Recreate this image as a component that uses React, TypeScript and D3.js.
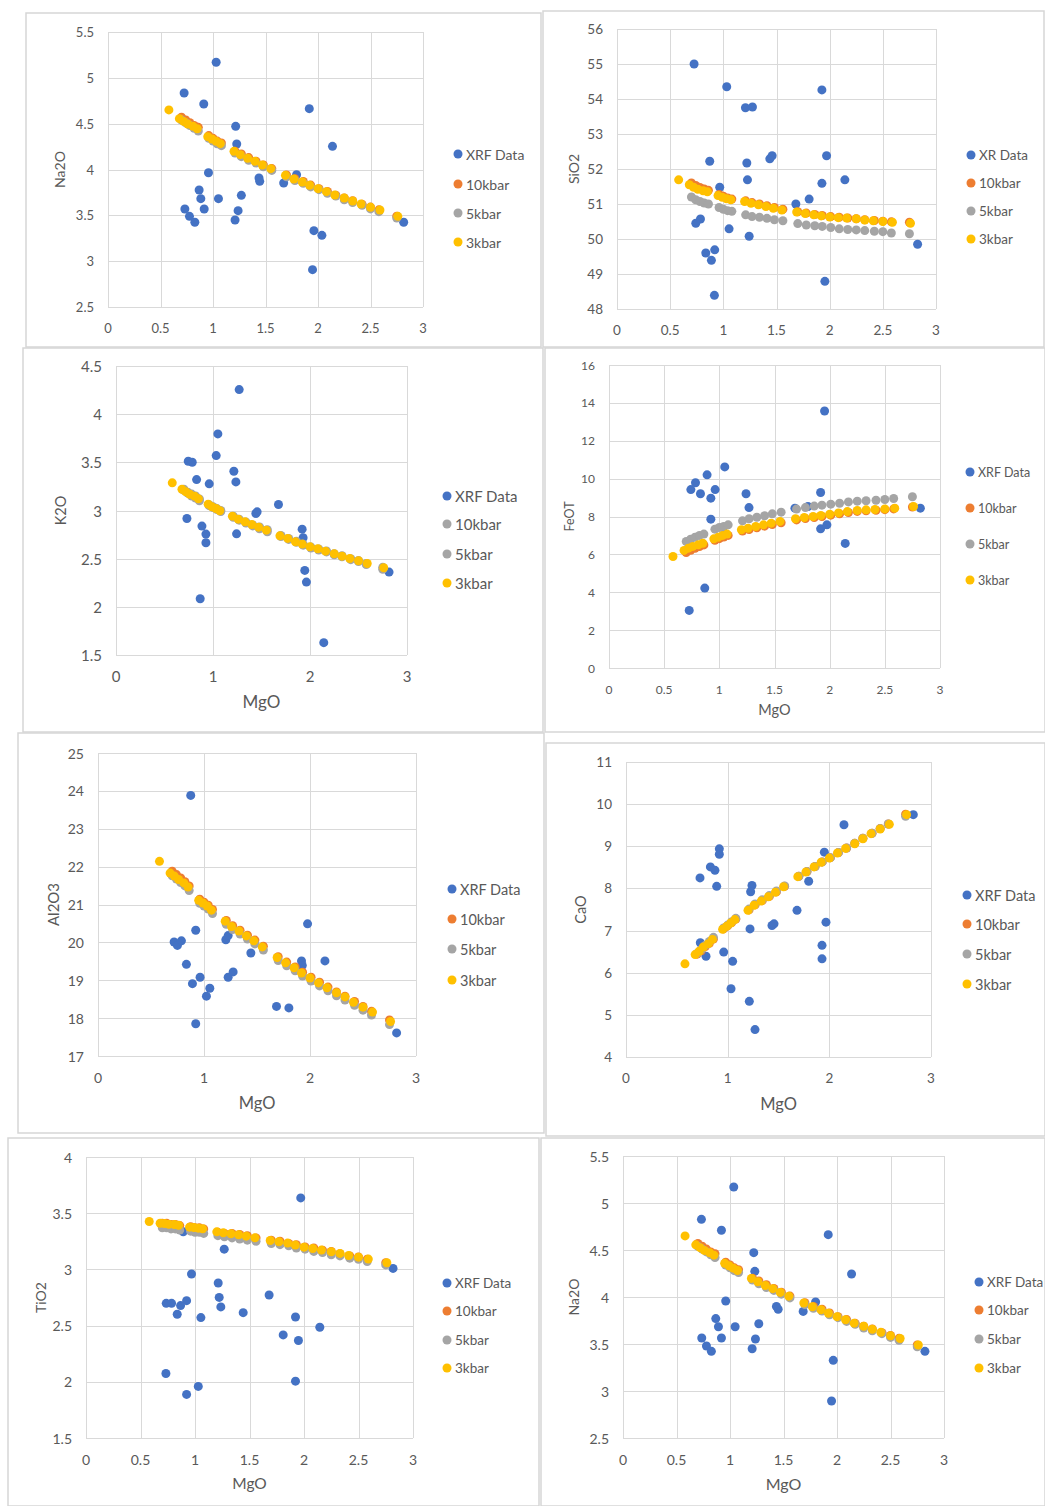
import React, { useEffect, useRef } from "react";
import * as d3 from "d3";

// MgO of the modelled liquids (3kbar has one extra point at the start)
const mgo3kbar = [0.58, 0.68, 0.72, 0.76, 0.81, 0.85, 0.95, 0.99, 1.03, 1.07, 1.2, 1.26, 1.33, 1.4, 1.47, 1.55, 1.69, 1.77, 1.85, 1.92, 2.0, 2.08, 2.16, 2.25, 2.33, 2.41, 2.5, 2.59, 2.76];
const mgoModel = [0.7, 0.74, 0.78, 0.82, 0.86, 0.96, 1.0, 1.04, 1.08, 1.21, 1.27, 1.34, 1.41, 1.48, 1.56, 1.7, 1.78, 1.86, 1.93, 2.01, 2.09, 2.17, 2.25, 2.33, 2.42, 2.5, 2.58, 2.75];

const na2o3kbar = [4.65, 4.555, 4.525, 4.496, 4.471, 4.445, 4.358, 4.333, 4.307, 4.282, 4.198, 4.162, 4.122, 4.089, 4.049, 4.009, 3.936, 3.896, 3.864, 3.827, 3.791, 3.758, 3.722, 3.689, 3.656, 3.624, 3.587, 3.558, 3.489];
const na2o5kbar = [4.54, 4.51, 4.48, 4.45, 4.42, 4.34, 4.31, 4.28, 4.26, 4.18, 4.14, 4.1, 4.07, 4.03, 3.99, 3.92, 3.88, 3.85, 3.81, 3.78, 3.74, 3.71, 3.67, 3.64, 3.61, 3.57, 3.54, 3.47];
const na2o10kbar = [4.57, 4.54, 4.51, 4.48, 4.46, 4.37, 4.34, 4.31, 4.29, 4.2, 4.17, 4.13, 4.09, 4.05, 4.01, 3.94, 3.9, 3.87, 3.83, 3.79, 3.76, 3.72, 3.69, 3.66, 3.62, 3.59, 3.56, 3.49];

const sio23kbar = [51.69, 51.55, 51.48, 51.42, 51.38, 51.35, 51.24, 51.19, 51.15, 51.12, 51.07, 51.02, 50.98, 50.93, 50.88, 50.83, 50.77, 50.73, 50.69, 50.66, 50.63, 50.61, 50.6, 50.58, 50.54, 50.52, 50.5, 50.48, 50.45];
const sio25kbar = [51.2, 51.12, 51.07, 51.03, 51.0, 50.9, 50.85, 50.81, 50.79, 50.69, 50.64, 50.62, 50.59, 50.55, 50.52, 50.44, 50.4, 50.38, 50.36, 50.33, 50.29, 50.27, 50.26, 50.24, 50.22, 50.21, 50.17, 50.15];
const sio210kbar = [51.6, 51.53, 51.47, 51.43, 51.39, 51.27, 51.22, 51.17, 51.14, 51.09, 51.04, 51.0, 50.95, 50.9, 50.85, 50.78, 50.74, 50.7, 50.67, 50.64, 50.62, 50.6, 50.58, 50.55, 50.53, 50.51, 50.49, 50.48];

const k2o3kbar = [3.287, 3.221, 3.194, 3.169, 3.149, 3.121, 3.066, 3.038, 3.021, 2.997, 2.941, 2.91, 2.882, 2.855, 2.827, 2.796, 2.737, 2.71, 2.675, 2.651, 2.623, 2.603, 2.578, 2.551, 2.526, 2.502, 2.478, 2.45, 2.406];
const k2o5kbar = [3.21, 3.18, 3.15, 3.13, 3.1, 3.05, 3.03, 3.01, 2.99, 2.93, 2.9, 2.87, 2.84, 2.81, 2.78, 2.73, 2.7, 2.67, 2.64, 2.61, 2.59, 2.57, 2.54, 2.52, 2.49, 2.47, 2.44, 2.39];
const k2o10kbar = [3.22, 3.19, 3.17, 3.15, 3.12, 3.06, 3.04, 3.02, 3.0, 2.94, 2.91, 2.88, 2.85, 2.83, 2.8, 2.74, 2.71, 2.68, 2.65, 2.62, 2.6, 2.58, 2.55, 2.53, 2.5, 2.48, 2.45, 2.41];

const feot3kbar = [5.89, 6.21, 6.33, 6.42, 6.51, 6.59, 6.82, 6.91, 7.0, 7.07, 7.3, 7.38, 7.47, 7.56, 7.65, 7.74, 7.88, 7.95, 8.0, 8.05, 8.12, 8.19, 8.26, 8.32, 8.35, 8.37, 8.4, 8.44, 8.53];
const feot5kbar = [6.68, 6.8, 6.91, 7.0, 7.07, 7.33, 7.42, 7.47, 7.56, 7.77, 7.88, 7.96, 8.04, 8.14, 8.23, 8.39, 8.47, 8.55, 8.6, 8.65, 8.7, 8.77, 8.81, 8.83, 8.86, 8.9, 8.95, 9.04];
const feot10kbar = [6.1, 6.22, 6.32, 6.41, 6.5, 6.74, 6.83, 6.92, 7.0, 7.23, 7.31, 7.4, 7.49, 7.58, 7.67, 7.82, 7.89, 7.95, 8.0, 8.07, 8.14, 8.21, 8.27, 8.3, 8.33, 8.36, 8.4, 8.5];

const al2o33kbar = [22.14, 21.83, 21.75, 21.66, 21.57, 21.46, 21.11, 21.04, 20.96, 20.85, 20.56, 20.42, 20.3, 20.17, 20.04, 19.88, 19.6, 19.46, 19.33, 19.19, 19.06, 18.93, 18.8, 18.67, 18.56, 18.42, 18.29, 18.16, 17.91];
const al2o35kbar = [21.76, 21.67, 21.58, 21.49, 21.37, 21.03, 20.96, 20.88, 20.76, 20.48, 20.34, 20.22, 20.09, 19.96, 19.8, 19.52, 19.38, 19.25, 19.11, 18.98, 18.85, 18.72, 18.59, 18.48, 18.34, 18.21, 18.08, 17.83];
const al2o310kbar = [21.88, 21.79, 21.7, 21.6, 21.49, 21.14, 21.06, 20.98, 20.87, 20.58, 20.44, 20.32, 20.19, 20.06, 19.9, 19.62, 19.48, 19.35, 19.21, 19.08, 18.95, 18.82, 18.69, 18.58, 18.44, 18.31, 18.18, 17.95];

const cao3kbar = [6.21, 6.43, 6.51, 6.61, 6.69, 6.79, 7.03, 7.1, 7.18, 7.26, 7.48, 7.6, 7.7, 7.8, 7.91, 8.04, 8.28, 8.39, 8.51, 8.62, 8.72, 8.84, 8.95, 9.06, 9.18, 9.3, 9.41, 9.52, 9.75];
const cao5kbar = [6.46, 6.55, 6.65, 6.74, 6.84, 7.06, 7.13, 7.21, 7.29, 7.51, 7.63, 7.73, 7.83, 7.94, 8.06, 8.29, 8.4, 8.52, 8.63, 8.73, 8.85, 8.96, 9.07, 9.19, 9.31, 9.42, 9.53, 9.71];
const cao10kbar = [6.44, 6.52, 6.62, 6.7, 6.8, 7.04, 7.11, 7.19, 7.27, 7.49, 7.61, 7.71, 7.81, 7.92, 8.05, 8.29, 8.4, 8.52, 8.63, 8.73, 8.85, 8.96, 9.07, 9.19, 9.31, 9.42, 9.53, 9.76];

const tio23kbar = [3.426, 3.411, 3.408, 3.402, 3.399, 3.393, 3.376, 3.373, 3.367, 3.361, 3.334, 3.325, 3.317, 3.308, 3.296, 3.281, 3.257, 3.246, 3.234, 3.216, 3.198, 3.186, 3.172, 3.157, 3.142, 3.124, 3.109, 3.092, 3.059];
const tio25kbar = [3.37, 3.37, 3.36, 3.36, 3.35, 3.34, 3.33, 3.33, 3.32, 3.3, 3.29, 3.28, 3.27, 3.26, 3.25, 3.23, 3.22, 3.21, 3.19, 3.18, 3.16, 3.15, 3.13, 3.12, 3.1, 3.09, 3.07, 3.04];
const tio210kbar = [3.41, 3.41, 3.4, 3.4, 3.39, 3.38, 3.37, 3.37, 3.36, 3.33, 3.32, 3.32, 3.31, 3.3, 3.28, 3.26, 3.25, 3.23, 3.22, 3.2, 3.19, 3.17, 3.16, 3.14, 3.12, 3.11, 3.09, 3.06];

// XRF samples, [MgO, oxide]
const na2oXrfTop = [[1.03, 5.17], [0.725, 4.835], [0.912, 4.715], [1.917, 4.664], [1.216, 4.471], [1.226, 4.278], [2.138, 4.253], [0.957, 3.965], [1.438, 3.907], [1.445, 3.871], [1.796, 3.944], [1.673, 3.853], [0.868, 3.776], [0.884, 3.682], [1.052, 3.682], [1.27, 3.718], [0.732, 3.569], [0.916, 3.569], [1.239, 3.551], [0.776, 3.489], [0.827, 3.424], [1.21, 3.449], [2.816, 3.424], [1.961, 3.333], [2.037, 3.282], [1.948, 2.907]];
const na2oXrfBottom = [[1.035, 5.17], [0.733, 4.826], [0.92, 4.71], [1.918, 4.663], [1.222, 4.472], [1.232, 4.273], [2.136, 4.245], [0.96, 3.957], [1.434, 3.9], [1.45, 3.87], [1.8, 3.947], [1.684, 3.847], [0.867, 3.77], [0.892, 3.684], [1.048, 3.684], [1.269, 3.716], [0.736, 3.564], [0.92, 3.564], [1.238, 3.553], [0.78, 3.479], [0.826, 3.422], [1.207, 3.45], [2.822, 3.422], [1.965, 3.326], [1.949, 2.894]];
const sio2Xrf = [[0.725, 55.0], [1.032, 54.35], [1.208, 53.75], [1.274, 53.77], [1.927, 54.26], [0.872, 52.22], [1.221, 52.17], [1.437, 52.29], [1.459, 52.38], [1.971, 52.38], [1.227, 51.69], [0.966, 51.48], [1.927, 51.59], [2.143, 51.69], [1.682, 51.0], [1.807, 51.14], [0.741, 50.45], [0.785, 50.57], [1.054, 50.29], [1.243, 50.08], [2.827, 49.85], [0.835, 49.6], [0.919, 49.69], [0.888, 49.39], [1.955, 48.79], [0.916, 48.39]];
const k2oXrf = [[1.27, 4.255], [1.05, 3.795], [1.033, 3.57], [0.745, 3.511], [0.786, 3.501], [1.215, 3.408], [1.236, 3.297], [0.831, 3.321], [0.961, 3.277], [1.675, 3.062], [1.442, 2.969], [1.455, 2.986], [0.731, 2.917], [0.886, 2.838], [0.927, 2.755], [0.927, 2.665], [1.243, 2.758], [1.919, 2.806], [1.929, 2.717], [1.946, 2.378], [1.963, 2.257], [0.868, 2.084], [2.142, 1.628], [2.815, 2.361]];
const feotXrf = [[1.954, 13.57], [1.049, 10.62], [0.889, 10.2], [0.784, 9.78], [0.742, 9.42], [0.829, 9.2], [0.962, 9.42], [0.923, 8.97], [1.242, 9.2], [1.918, 9.27], [1.269, 8.47], [0.923, 7.86], [1.685, 8.44], [1.803, 8.53], [1.918, 7.35], [1.975, 7.56], [2.141, 6.58], [2.822, 8.44], [0.868, 4.22], [0.727, 3.04], [1.034, 7.42]];
const al2o3Xrf = [[0.875, 23.88], [1.977, 20.49], [0.922, 20.32], [0.718, 20.01], [0.749, 19.92], [0.787, 20.04], [1.206, 20.07], [1.228, 20.18], [1.442, 19.72], [1.92, 19.51], [2.141, 19.51], [0.834, 19.42], [0.963, 19.08], [0.891, 18.91], [1.228, 19.08], [1.275, 19.22], [1.055, 18.79], [1.023, 18.58], [1.684, 18.31], [1.801, 18.27], [0.922, 17.85], [2.817, 17.61], [1.927, 19.39]];
const caoXrf = [[0.918, 8.94], [0.918, 8.81], [0.83, 8.51], [0.875, 8.43], [0.728, 8.25], [0.892, 8.05], [1.239, 8.07], [1.226, 7.92], [2.144, 9.51], [1.951, 8.86], [1.797, 8.17], [1.682, 7.48], [1.967, 7.2], [1.22, 7.04], [1.436, 7.12], [1.456, 7.16], [0.731, 6.71], [0.787, 6.39], [0.961, 6.49], [1.049, 6.27], [1.928, 6.65], [1.928, 6.33], [1.033, 5.62], [1.213, 5.32], [1.269, 4.65], [2.826, 9.75]];
const tio2Xrf = [[1.97, 3.636], [0.892, 3.334], [1.268, 3.18], [0.968, 2.959], [1.213, 2.879], [1.68, 2.772], [1.222, 2.751], [1.237, 2.666], [0.736, 2.698], [0.785, 2.698], [0.923, 2.722], [0.868, 2.678], [0.837, 2.601], [1.054, 2.571], [1.442, 2.615], [1.922, 2.577], [2.145, 2.485], [1.809, 2.417], [1.949, 2.367], [0.733, 2.074], [1.922, 2.006], [1.03, 1.959], [0.923, 1.888], [2.817, 3.009]];

const seriesNames = ["10kbar", "5kbar", "3kbar"];
const BLUE = "#4472C4";
const ORANGE = "#ED7D31";
const GRAY = "#A5A5A5";
const GOLD = "#FFC000";
const TEXT = "#595959";
const GRID = "#d9d9d9";

// layout of the eight charts on the page
const panels = [
  { box: [26, 13, 515, 334], plot: [108, 32, 423, 307], y: [2.5, 5.5, 0.5], xStep: 0.5, title: "Na2O", titleX: 59, xTitleY: 354, legX: 458, legY: [154, 184, 213, 242], xrfName: "XRF Data", xrf: na2oXrfTop, k10: na2o10kbar, k5: na2o5kbar, k3: na2o3kbar, c10: ORANGE, fs: [13, 14, 16, 14] },
  { box: [543, 11, 501, 336], plot: [617, 29, 936, 309], y: [48, 56, 1], xStep: 0.5, title: "SiO2", titleX: 573, xTitleY: 356, legX: 971, legY: [155, 183, 211, 239], xrfName: "XR Data", xrf: sio2Xrf, k10: sio210kbar, k5: sio25kbar, k3: sio23kbar, c10: ORANGE, fs: [13.5, 14, 16, 13.5] },
  { box: [23, 348, 520, 384], plot: [116, 366, 407, 655], y: [1.5, 4.5, 0.5], xStep: 1, title: "K2O", titleX: 60, xTitleY: 701, legX: 447, legY: [496, 524, 554, 583], xrfName: "XRF Data", xrf: k2oXrf, k10: k2o10kbar, k5: k2o5kbar, k3: k2o3kbar, c10: GRAY, fs: [15, 14.5, 17, 15] },
  { box: [545, 348, 500, 384], plot: [609, 365, 940, 668], y: [0, 16, 2], xStep: 0.5, title: "FeOT", titleX: 569, xTitleY: 709, legX: 970, legY: [472, 508, 544, 580], xrfName: "XRF Data", xrf: feotXrf, k10: feot10kbar, k5: feot5kbar, k3: feot3kbar, c10: ORANGE, fs: [12, 12.5, 14.5, 12.5] },
  { box: [18, 733, 526, 400], plot: [98, 753, 416, 1056], y: [17, 25, 1], xStep: 1, title: "Al2O3", titleX: 53, xTitleY: 1103, legX: 452, legY: [889, 919, 949, 980], xrfName: "XRF Data", xrf: al2o3Xrf, k10: al2o310kbar, k5: al2o35kbar, k3: al2o33kbar, c10: ORANGE, fs: [14, 15, 16.5, 14.5] },
  { box: [546, 743, 499, 393], plot: [626, 762, 931, 1057], y: [4, 11, 1], xStep: 1, title: "CaO", titleX: 580, xTitleY: 1104, legX: 967, legY: [895, 924, 954, 984], xrfName: "XRF Data", xrf: caoXrf, k10: cao10kbar, k5: cao5kbar, k3: cao3kbar, c10: ORANGE, fs: [13.5, 14.5, 16.5, 14.5] },
  { box: [8, 1138, 531, 368], plot: [86, 1157, 413, 1438], y: [1.5, 4, 0.5], xStep: 0.5, title: "TiO2", titleX: 40, xTitleY: 1483, legX: 447, legY: [1283, 1311, 1340, 1368], xrfName: "XRF Data", xrf: tio2Xrf, k10: tio210kbar, k5: tio25kbar, k3: tio23kbar, c10: ORANGE, fs: [14, 14, 15.5, 13.5] },
  { box: [541, 1138, 504, 368], plot: [623, 1156, 944, 1438], y: [2.5, 5.5, 0.5], xStep: 0.5, title: "Na2O", titleX: 573, xTitleY: 1483, legX: 979, legY: [1282, 1310, 1339, 1368], xrfName: "XRF Data", xrf: na2oXrfBottom, k10: na2o10kbar, k5: na2o5kbar, k3: na2o3kbar, c10: ORANGE, fs: [14, 14, 16, 13.5] },
];

const fmt = (v: number) => String(Math.round(v * 10) / 10);

export default function App() {
  const ref = useRef<SVGSVGElement>(null);

  useEffect(() => {
    const svg = d3.select(ref.current);
    svg.selectAll("*").remove();
    svg.append("rect").attr("width", 1045).attr("height", 1506).attr("fill", "#fff");

    panels.forEach((p) => {
      const [bx, by, bw, bh] = p.box;
      const [l, t, r, b] = p.plot;
      const [tickFs, titleFs, xTitleFs, legFs] = p.fs;
      const g = svg.append("g").attr("font-family", "Lato, 'Open Sans', sans-serif");

      g.append("rect")
        .attr("x", bx).attr("y", by).attr("width", bw).attr("height", bh)
        .attr("fill", "#fff").attr("stroke", "#d6d6d6").attr("stroke-width", 1.5);

      const x = d3.scaleLinear().domain([0, 3]).range([l, r]);
      const y = d3.scaleLinear().domain([p.y[0], p.y[1]]).range([b, t]);
      const xTicks = d3.range(0, 3 + 1e-6, p.xStep);
      const yTicks = d3.range(p.y[0], p.y[1] + 1e-6, p.y[2]);

      g.selectAll(".gx").data(xTicks).join("line")
        .attr("x1", (d) => Math.round(x(d)) + 0.5).attr("x2", (d) => Math.round(x(d)) + 0.5)
        .attr("y1", t).attr("y2", b).attr("stroke", GRID).attr("stroke-width", 1);
      g.selectAll(".gy").data(yTicks).join("line")
        .attr("y1", (d) => Math.round(y(d)) + 0.5).attr("y2", (d) => Math.round(y(d)) + 0.5)
        .attr("x1", l).attr("x2", r).attr("stroke", GRID).attr("stroke-width", 1);

      g.selectAll(".tx").data(xTicks).join("text")
        .attr("x", (d) => x(d)).attr("y", b + 21)
        .attr("text-anchor", "middle").attr("dominant-baseline", "central")
        .attr("font-size", tickFs).attr("fill", TEXT).text(fmt);
      g.selectAll(".ty").data(yTicks).join("text")
        .attr("x", l - 14).attr("y", (d) => y(d))
        .attr("text-anchor", "end").attr("dominant-baseline", "central")
        .attr("font-size", tickFs).attr("fill", TEXT).text(fmt);

      g.append("text")
        .attr("transform", `translate(${p.titleX}, ${(t + b) / 2}) rotate(-90)`)
        .attr("text-anchor", "middle").attr("dominant-baseline", "central")
        .attr("font-size", titleFs).attr("fill", TEXT).text(p.title);
      g.append("text")
        .attr("x", (l + r) / 2).attr("y", p.xTitleY)
        .attr("text-anchor", "middle").attr("dominant-baseline", "central")
        .attr("font-size", xTitleFs).attr("fill", TEXT).text("MgO");

      const dots = (data: number[][], color: string) => {
        g.append("g").selectAll("circle").data(data).join("circle")
          .attr("cx", (d) => x(d[0])).attr("cy", (d) => y(d[1]))
          .attr("r", 4.5).attr("fill", color);
      };
      dots(p.xrf, BLUE);
      dots(mgoModel.map((m, i) => [m, p.k10[i]]), p.c10);
      dots(mgoModel.map((m, i) => [m, p.k5[i]]), GRAY);
      dots(mgo3kbar.map((m, i) => [m, p.k3[i]]), GOLD);

      const legend = [
        { name: p.xrfName, color: BLUE },
        { name: seriesNames[0], color: p.c10 },
        { name: seriesNames[1], color: GRAY },
        { name: seriesNames[2], color: GOLD },
      ];
      legend.forEach((item, i) => {
        g.append("circle").attr("cx", p.legX).attr("cy", p.legY[i]).attr("r", 4.5).attr("fill", item.color);
        g.append("text")
          .attr("x", p.legX + 8).attr("y", p.legY[i])
          .attr("dominant-baseline", "central")
          .attr("font-size", legFs).attr("fill", TEXT).text(item.name);
      });
    });
  }, []);

  return (
    <svg
      ref={ref}
      width={1045}
      height={1506}
      style={{ position: "absolute", left: 0, top: 0, display: "block" }}
    />
  );
}
